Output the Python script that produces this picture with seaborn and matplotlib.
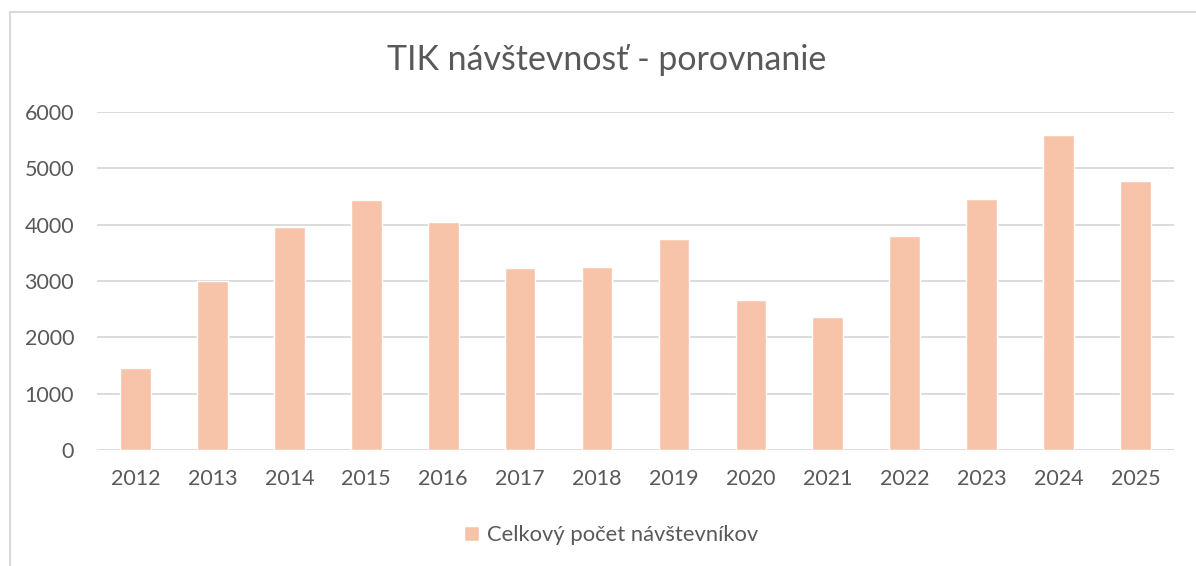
import pandas as pd
import seaborn as sns
import matplotlib.pyplot as plt
from matplotlib.patches import Patch, Rectangle

# data
years = ["2012", "2013", "2014", "2015", "2016", "2017", "2018",
         "2019", "2020", "2021", "2022", "2023", "2024", "2025"]
visitors = [1460, 3000, 3960, 4440, 4040, 3225, 3255,
            3745, 2655, 2355, 3800, 4455, 5585, 4775]
series_name = "Celkový počet návštevníkov"
title = "TIK návštevnosť - porovnanie"
y_ticks = [0, 1000, 2000, 3000, 4000, 5000, 6000]

df = pd.DataFrame({"rok": years, "pocet": visitors})

bar_color = "#F8C4A9"
text_color = "#595959"
grid_color = "#D9D9D9"

sns.set_theme(style="white")
plt.rcParams["font.family"] = ["Lato", "DejaVu Sans"]

fig = plt.figure(figsize=(11.96, 5.66), dpi=100)
ax = fig.add_axes([97 / 1196, 1 - 450 / 566, (1174 - 97) / 1196, (450 - 112) / 566])

sns.barplot(data=df, x="rok", y="pocet", color=bar_color, width=0.4,
            saturation=1, ax=ax, zorder=3)

ax.set_xlim(-0.5, len(years) - 0.5)
ax.set_ylim(0, 6000)
ax.set_yticks(y_ticks)
ax.set_yticklabels([str(t) for t in y_ticks])
ax.set_xlabel("")
ax.set_ylabel("")

# gridlines like excel
ax.yaxis.grid(True, color=grid_color, linewidth=1.3, zorder=0)
ax.set_axisbelow(True)
for s in ["top", "right", "left", "bottom"]:
    ax.spines[s].set_visible(False)
ax.tick_params(axis="both", length=0, labelsize=15.5, labelcolor=text_color)
ax.tick_params(axis="y", pad=16.5)
ax.tick_params(axis="x", pad=14)

# title and legend
fig.text(607 / 1196, 1 - 60 / 566, title, ha="center", va="center",
         fontsize=24.4, color=text_color)
leg = fig.legend(handles=[Patch(facecolor=bar_color, label=series_name)],
                 loc="center", bbox_to_anchor=(611 / 1196, 1 - 535 / 566),
                 frameon=False, fontsize=15.8, handlelength=0.7, handleheight=0.7,
                 handletextpad=0.35)
for t in leg.get_texts():
    t.set_color(text_color)

# chart border
fig.patches.append(Rectangle((10 / 1196, -0.1), 1.2, 1 - 12 / 566 + 0.1,
                             transform=fig.transFigure, fill=False,
                             edgecolor=grid_color, linewidth=1.5))

fig.savefig("out.png", dpi=100)
